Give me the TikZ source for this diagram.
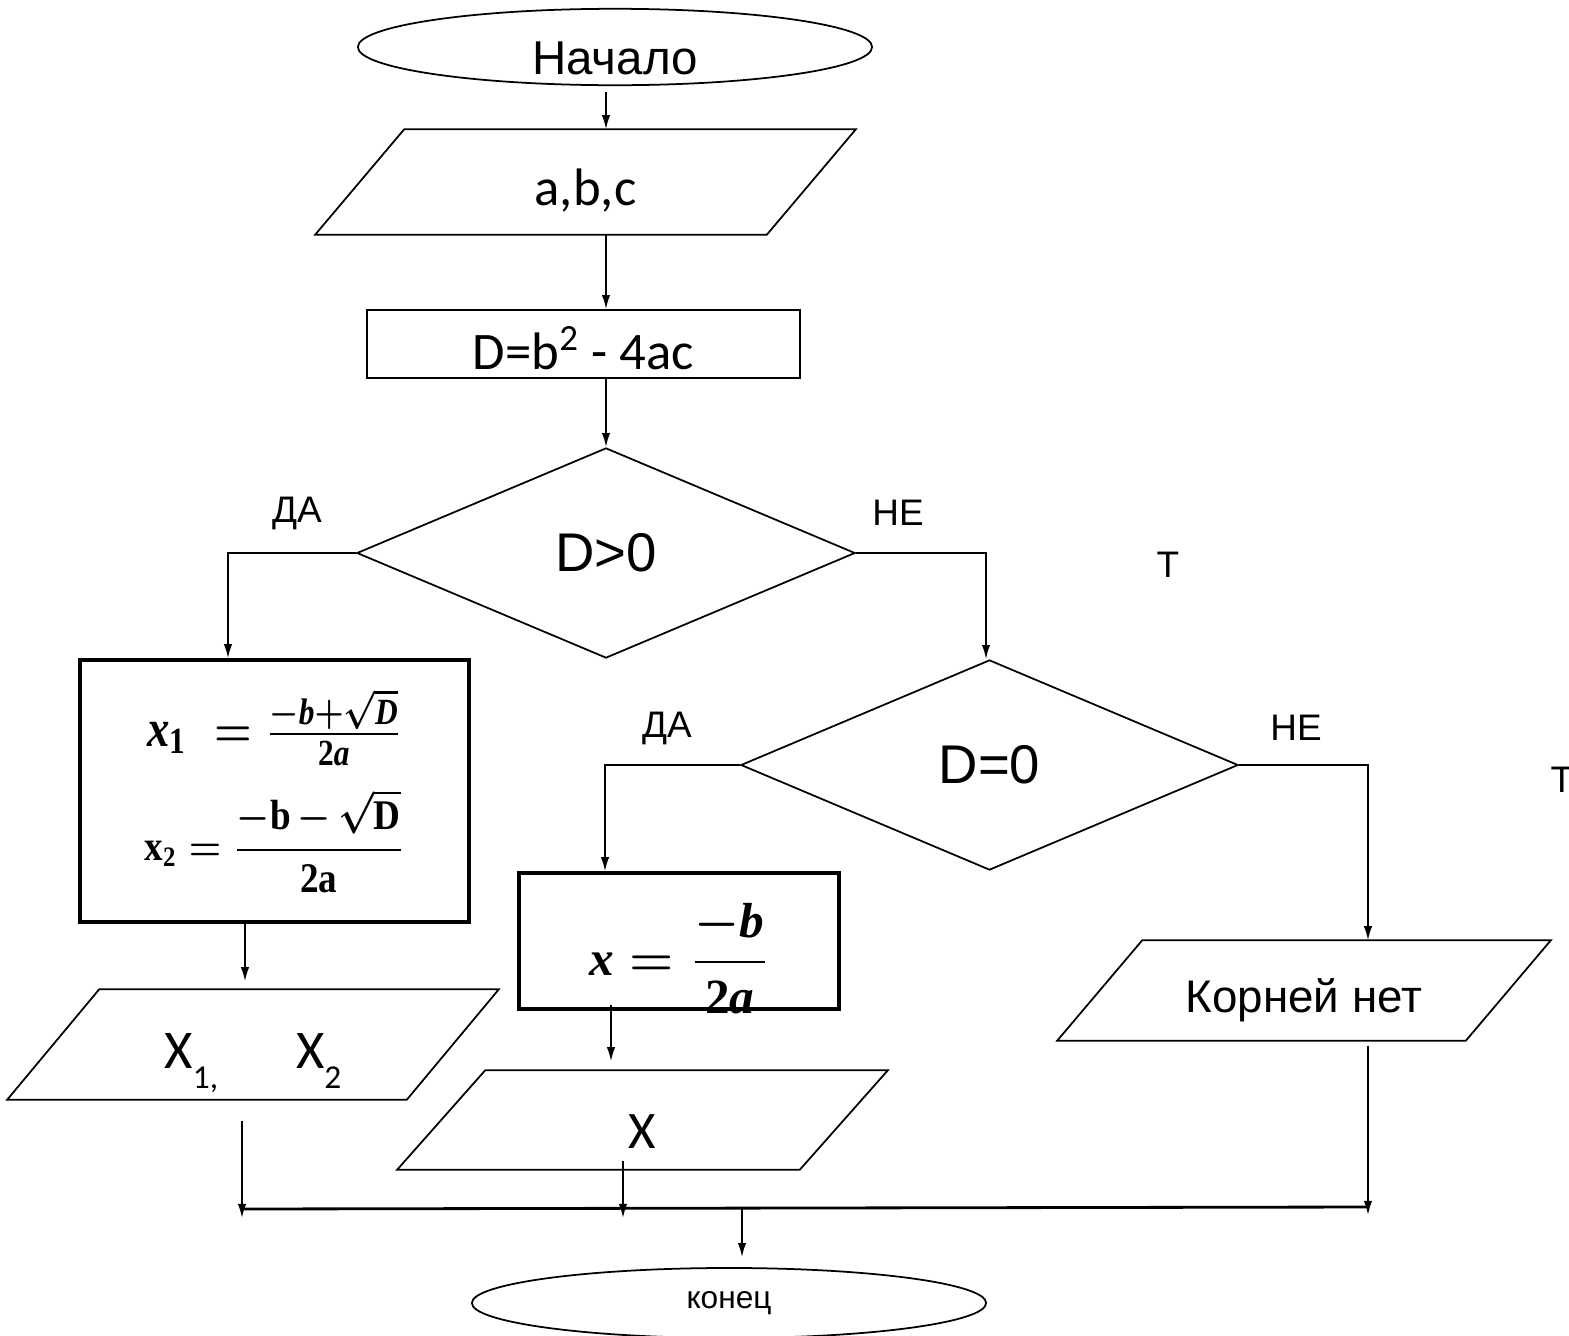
\documentclass[tikz,border=0pt]{standalone}
\usepackage[no-math]{fontspec}
\setmainfont{Liberation Sans}
\newfontfamily\calfont{Carlito}
\newfontfamily\tnr{Liberation Serif}
\usepackage{amsmath}
\usetikzlibrary{shapes.geometric}
\usetikzlibrary{arrows.meta}

\tikzset{
  arr/.style={line width=0.5pt,-{Latex[length=4pt,width=2.4pt]}},
  term/.style={ellipse,draw,line width=0.5pt,minimum width=5.14cm,minimum height=0.70cm,inner sep=0pt},
  io/.style={rectangle,inner sep=0pt},
  proc/.style={rectangle,draw,line width=0.5pt,inner sep=0pt},
  cond/.style={diamond,draw,line width=0.5pt,inner sep=0pt},
  lbl/.style={font=\fontsize{10.5}{12}\selectfont}
}
% parallelogram round an io node: name, slant
\newcommand{\drawio}[2]{\draw[line width=0.5pt] (#1.south west) -- ([xshift=#2]#1.north west) -- (#1.north east) -- ([xshift=-#2]#1.south east) -- cycle;}
% bold serif letters in formulas
\newcommand{\fb}[1]{\text{\tnr\bfseries #1}}
\newcommand{\fbi}[1]{\text{\tnr\bfseries\itshape #1}}
\newcommand{\narrow}[2]{\scalebox{#1}[1]{#2}}

\begin{document}
\begin{tikzpicture}[x=0.01cm,y=-0.01cm]
\useasboundingbox (0,0) rectangle (1569,1336);
% blocks
\node[term,text height=0.54cm,text depth=0pt,font=\fontsize{13.5}{16}\selectfont] (start) at (615,47) {Начало};
\node[io,minimum width=5.39cm,minimum height=1.04cm,text height=0.46cm,text depth=0pt,font=\calfont\fontsize{15}{18}\selectfont] (abc) at (585.5,182) {a,b,c};
\node[proc,minimum width=4.33cm,minimum height=0.68cm,text height=0.5cm,text depth=0pt,font=\calfont\fontsize{15}{18}\selectfont] (disc) at (583.5,344) {D=b\textsuperscript{2} - 4ac};
\node[cond,minimum width=4.98cm,minimum height=2.10cm,font=\fontsize{15.5}{18}\selectfont] (c1) at (606,553) {D>0};
\node[proc,line width=1pt,minimum width=3.89cm,minimum height=2.62cm,align=center] (roots2) at (274.5,791)
  {{\fontsize{15}{17}\selectfont\boldmath\narrow{0.85}{$\fbi{x}_{\fb{1}}\;=\tfrac{-\fbi{b}{+}\sqrt{\fbi{D}}}{\fb{2}\fbi{a}}$}}\\[0.2cm]
   {\fontsize{12}{14}\selectfont\boldmath\narrow{0.88}{$\fb{x}_{\fb{2}}=\dfrac{-\fb{b}\,{-}\,\sqrt{\fb{D}}}{\fb{2a}}$}}};
\node[io,minimum width=4.90cm,minimum height=1.09cm,text height=0.47cm,text depth=0pt,font=\calfont\fontsize{15.5}{18}\selectfont] (out2) at (253,1044.5)
  {X\raisebox{-0.2cm}{\fontsize{9.5}{11}\selectfont 1,}\hspace{0.78cm}X\raisebox{-0.2cm}{\fontsize{9.5}{11}\selectfont 2}};
\node[cond,minimum width=4.97cm,minimum height=2.10cm,font=\fontsize{15.5}{18}\selectfont] (c2) at (989.5,765) {D=0};
\node[proc,line width=1pt,minimum width=3.20cm,minimum height=1.36cm,text height=0.68cm,text depth=0pt,font={\fontsize{14}{17}\selectfont\boldmath}] (root1) at (679,941) {$\displaystyle\fbi{x}=\frac{-\fbi{b}}{\fb{2}\fbi{a}}$};
\node[io,minimum width=4.89cm,minimum height=0.98cm,text height=0.56cm,text depth=0pt,font=\calfont\fontsize{15}{18}\selectfont] (out1) at (642.5,1120) {X};
\node[io,minimum width=4.92cm,minimum height=0.99cm,text height=0.43cm,text depth=0pt,font=\fontsize{13}{16}\selectfont] (none) at (1304,990.5) {Корней нет};
\node[term,font=\fontsize{9}{11}\selectfont] (end) at (729,1303) {конец};
\drawio{abc}{0.89cm}
\drawio{out2}{0.92cm}
\drawio{out1}{0.88cm}
\drawio{none}{0.85cm}
% labels
\node[lbl] (yes1) at (297,513) {ДА};
\node[lbl] (no1) at (898,513) {НЕ};
\node[lbl] (t1) at (1168,565) {Т};
\node[lbl] (yes2) at (667,728) {ДА};
\node[lbl] (no2) at (1296,728) {НЕ};
\node[lbl] (t2) at (1562,780) {Т};
% junctions
\coordinate (j1) at (228,553);
\coordinate (j2) at (986,553);
\coordinate (j3) at (605,765);
\coordinate (j4) at (1368,765);
\coordinate (busL) at (242,1209);
\coordinate (busX) at (623,1209);
\coordinate (busM) at (742,1209);
\coordinate (busR) at (1368,1207);
\coordinate (r1x) at (611,1009);
\coordinate (r2x) at (245,922);
% connectors
\draw[arr] ([yshift=-0.06cm]start.south -| c1) -- (abc.north -| c1);
\draw[arr] (abc.south -| c1) -- (disc.north -| c1);
\draw[arr] (disc.south -| c1) -- (c1.north);
\draw[arr] (c1.west) -- (j1) -- (j1 |- roots2.north);
\draw[arr] (c1.east) -- (j2) -- (j2 |- c2.north);
\draw[arr] (c2.west) -- (j3) -- (j3 |- root1.north);
\draw[arr] (c2.east) -- (j4) -- (j4 |- none.north);
\draw[arr] (r2x) -- ([yshift=0.08cm]r2x |- out2.north);
\draw[arr] ([yshift=0.04cm]r1x) -- ([yshift=0.09cm]r1x |- out1.north);
\draw[arr] ([yshift=-0.21cm]busL |- out2.south) -- ([yshift=-0.09cm]busL);
\draw[arr] ([yshift=0.09cm]busX |- out1.south) -- ([yshift=-0.09cm]busX);
\draw[arr] ([yshift=-0.05cm]busR |- none.south) -- ([yshift=-0.08cm]busR);
\draw[line width=0.8pt] (busL) -- (busR);
\draw[arr] (busM) -- ([yshift=0.1cm]busM |- end.north);
\end{tikzpicture}
\end{document}
